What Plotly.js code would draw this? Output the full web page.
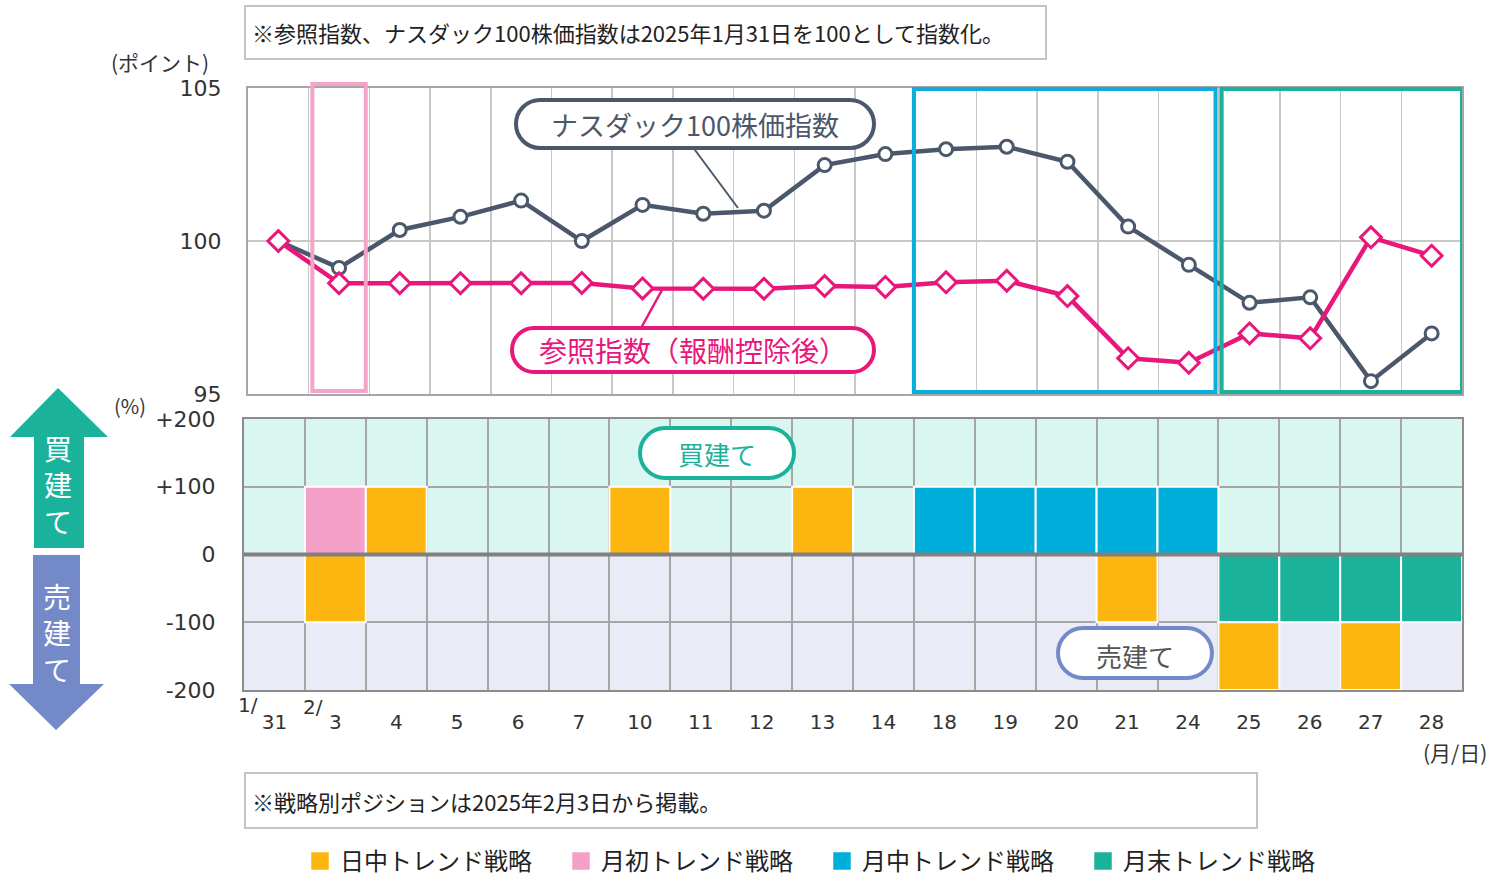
<!DOCTYPE html>
<html><head><meta charset="utf-8">
<script src="https://cdn.plot.ly/plotly-3.0.1.min.js"></script>
<style>html,body{margin:0;padding:0;background:#fff}#chart{width:1507px;height:879px}
#chart .legend .legendpoints path{transform:translate(20px,0px) scale(1.75)}</style>
</head><body><div id="chart"></div>
<script>
// ---- data ----
const dates = ['31','3','4','5','6','7','10','11','12','13','14','18','19','20','21','24','25','26','27','28'];
const nasdaq = [100,99.12,100.36,100.79,101.32,100.0,101.18,100.89,100.99,102.48,102.84,103.0,103.08,102.59,100.47,99.22,97.98,98.16,95.42,96.98];
const refIndex = [100,98.62,98.62,98.62,98.62,98.63,98.45,98.44,98.44,98.53,98.5,98.65,98.70,98.2,96.17,96.02,96.98,96.82,100.12,99.52];
const intraday   = [null,-100,100,null,null,null,100,null,null,100,null,null,null,null,-100,null,-100,null,-100,null];
const monthStart = [null,100,null,null,null,null,null,null,null,null,null,null,null,null,null,null,null,null,null,null];
const monthMid   = [null,null,null,null,null,null,null,null,null,null,null,100,100,100,100,100,null,null,null,null];
const monthEnd   = [null,null,null,null,null,null,null,null,null,null,null,null,null,null,null,null,-100,-100,-100,-100];
const yTopTicks = [95,100,105];
const yBotTicks = [-200,-100,0,100,200];
const yBotText = ['-200','-100','0','+100','+200'];

// ---- helpers ----
const W=1507,H=879;
const X=p=>p/W, Y=p=>1-p/H;
const P=(x,y)=>X(x)+','+Y(y);
function pill(x0,y0,x1,y1,r){
  const k=0.5523*r;
  return 'M'+P(x0+r,y0)+' L'+P(x1-r,y0)+' C'+P(x1-r+k,y0)+' '+P(x1,y0+r-k)+' '+P(x1,y0+r)+
    ' L'+P(x1,y1-r)+' C'+P(x1,y1-r+k)+' '+P(x1-r+k,y1)+' '+P(x1-r,y1)+
    ' L'+P(x0+r,y1)+' C'+P(x0+r-k,y1)+' '+P(x0,y1-r+k)+' '+P(x0,y1-r)+
    ' L'+P(x0,y0+r)+' C'+P(x0,y0+r-k)+' '+P(x0+r-k,y0)+' '+P(x0+r,y0)+' Z';
}
function poly(pts){return 'M'+pts.map(p=>P(p[0],p[1])).join(' L')+' Z';}

const C_NAS='#4b586c', C_REF='#e8177c', C_ORA='#fdb50f', C_PINK='#f5a0c8', C_BLUE='#00aedb', C_GRN='#1bb29c';
const JP='Noto Sans CJK JP', NUM='DejaVu Sans';
const xRange=[-0.5, dates.length-0.5];

const traces = [
  {x:dates,y:nasdaq,xaxis:'x',yaxis:'y',type:'scatter',mode:'lines+markers',showlegend:false,
   line:{color:C_NAS,width:4.5},marker:{symbol:'circle',size:13,color:'#fff',line:{color:C_NAS,width:3}},cliponaxis:false},
  {x:dates,y:refIndex,xaxis:'x',yaxis:'y',type:'scatter',mode:'lines+markers',showlegend:false,
   line:{color:C_REF,width:4.5},marker:{symbol:'diamond',size:16,color:'#fff',line:{color:C_REF,width:3}},cliponaxis:false},
  {x:dates,y:monthStart,xaxis:'x2',yaxis:'y2',type:'bar',name:'月初トレンド戦略',legendrank:2,width:1,
   marker:{color:C_PINK,line:{color:'#fff',width:2}}},
  {x:dates,y:monthMid,xaxis:'x2',yaxis:'y2',type:'bar',name:'月中トレンド戦略',legendrank:3,width:1,
   marker:{color:C_BLUE,line:{color:'#fff',width:2}}},
  {x:dates,y:monthEnd,xaxis:'x2',yaxis:'y2',type:'bar',name:'月末トレンド戦略',legendrank:4,width:1,
   marker:{color:C_GRN,line:{color:'#fff',width:2}}},
  {x:dates,y:intraday,xaxis:'x2',yaxis:'y2',type:'bar',name:'日中トレンド戦略',legendrank:1,width:1,
   marker:{color:C_ORA,line:{color:'#fff',width:2}}}
];

const i3 = dates.indexOf('3'), i18 = dates.indexOf('18'), i24 = dates.indexOf('24'), i25 = dates.indexOf('25'), i28 = dates.indexOf('28');

const shapes = [
  // bottom backgrounds
  {type:'rect',xref:'x2 domain',yref:'y2',x0:0,x1:1,y0:0,y1:200,fillcolor:'#d9f6f0',line:{width:0},layer:'below'},
  {type:'rect',xref:'x2 domain',yref:'y2',x0:0,x1:1,y0:-200,y1:0,fillcolor:'#e9ecf6',line:{width:0},layer:'below'},
  // zero line across bars
  {type:'line',xref:'x2 domain',yref:'y2',x0:0,x1:1,y0:0,y1:0,line:{color:'#808080',width:4},layer:'above'},
  // highlight boxes on top chart
  {type:'rect',xref:'x',yref:'paper',x0:i3-0.44,x1:i3+0.44,y0:Y(391),y1:Y(84),line:{color:'#f4a3c9',width:4},layer:'above'},
  {type:'rect',xref:'x',yref:'paper',x0:i18-0.53,x1:i24+0.44,y0:Y(392),y1:Y(89),line:{color:'#0aaedc',width:4},layer:'above'},
  {type:'rect',xref:'x',yref:'paper',x0:i25-0.46,x1:i28+0.5,y0:Y(392),y1:Y(89),line:{color:C_GRN,width:4},layer:'above'},
  // note boxes
  {type:'rect',xref:'paper',yref:'paper',x0:X(245),x1:X(1046),y0:Y(59),y1:Y(6),line:{color:'#c4c4c4',width:2}},
  {type:'rect',xref:'paper',yref:'paper',x0:X(245),x1:X(1257),y0:Y(828),y1:Y(773),line:{color:'#c4c4c4',width:2}},
  // pointer lines
  {type:'line',xref:'paper',yref:'paper',x0:X(692),y0:Y(146),x1:X(738),y1:Y(208),line:{color:C_NAS,width:2}},
  {type:'line',xref:'paper',yref:'paper',x0:X(640),y0:Y(330),x1:X(662),y1:Y(290),line:{color:C_REF,width:2.5}},
  // pills
  {type:'path',xref:'paper',yref:'paper',path:pill(516,100,874,148,24),fillcolor:'#fff',line:{color:C_NAS,width:4}},
  {type:'path',xref:'paper',yref:'paper',path:pill(512,328,874,372,22),fillcolor:'#fff',line:{color:C_REF,width:4}},
  {type:'path',xref:'paper',yref:'paper',path:pill(640,428,794,478,25),fillcolor:'#fff',line:{color:C_GRN,width:4}},
  {type:'path',xref:'paper',yref:'paper',path:pill(1058,628,1212,678,25),fillcolor:'#fff',line:{color:'#7489c7',width:4}},
  // side arrows
  {type:'path',xref:'paper',yref:'paper',path:poly([[58,388],[108,437],[84,437],[84,548],[34,548],[34,437],[10,437]]),fillcolor:C_GRN,line:{width:0}},
  {type:'path',xref:'paper',yref:'paper',path:poly([[33,555],[80,555],[80,684],[104,684],[56,730],[9,684],[33,684]]),fillcolor:'#7489c7',line:{width:0}}
];

const ann = (text,x,y,size,color,xanchor,extra)=>Object.assign({text:text,xref:'paper',yref:'paper',x:X(x),y:Y(y),
  xanchor:xanchor||'center',yanchor:'middle',showarrow:false,font:{family:JP,size:size,color:color||'#333'}},extra||{});

const annotations = [
  ann('※参照指数、ナスダック100株価指数は2025年1月31日を100として指数化。',250,32,22,'#222','left'),
  ann('※戦略別ポジションは2025年2月3日から掲載。',250,801,22,'#222','left'),
  ann('(ポイント)',160,62,21,'#333'),
  ann('(%)',130,405,20,'#333'),
  ann('ナスダック100株価指数',695,124,27,C_NAS),
  ann('参照指数（報酬控除後）',693,350,28,C_REF),
  ann('買建て',717,453,26,C_GRN),
  ann('売建て',1135,655,26,'#555'),
  ann('買<br>建<br>て',58,484,28,'#fff'),
  ann('売<br>建<br>て',57,632,28,'#fff'),
  Object.assign(ann('1/',248,705,20,'#333'),{font:{family:NUM,size:20,color:'#333'}}),
  Object.assign(ann('2/',313,707,20,'#333'),{font:{family:NUM,size:20,color:'#333'}}),
  ann('(月/日)',1455,752,21,'#333')
];

const layout = {
  width:W,height:H,margin:{l:0,r:0,t:0,b:0,autoexpand:false},
  paper_bgcolor:'#fff',plot_bgcolor:'rgba(0,0,0,0)',
  font:{family:NUM,color:'#333'},
  barmode:'relative',bargap:0,
  xaxis:{domain:[X(248),X(1462)],anchor:'y',type:'category',range:xRange,autorange:false,tickson:'boundaries',showticklabels:false,ticks:'',
    showgrid:true,gridcolor:'#c8c8c8',gridwidth:1.5,showline:true,mirror:true,linecolor:'#a6a6a6',linewidth:2,fixedrange:true},
  yaxis:{domain:[Y(394),Y(88)],anchor:'x',range:[95,105],tickvals:yTopTicks,ticks:'',ticklabelstandoff:20,
    tickfont:{family:NUM,size:22,color:'#333'},showgrid:true,gridcolor:'#c8c8c8',gridwidth:1.5,zeroline:false,
    showline:true,mirror:true,linecolor:'#a6a6a6',linewidth:2},
  xaxis2:{domain:[X(244),X(1462)],anchor:'y2',type:'category',range:xRange,autorange:false,tickson:'boundaries',ticks:'',ticklabelstandoff:13,
    tickfont:{family:NUM,size:20,color:'#333'},showgrid:true,gridcolor:'#a6a6a6',gridwidth:2,
    showline:true,mirror:true,linecolor:'#8c8c8c',linewidth:2},
  yaxis2:{domain:[Y(690),Y(419)],anchor:'x2',range:[-200,200],tickvals:yBotTicks,ticktext:yBotText,ticks:'',ticklabelstandoff:22,
    tickfont:{family:NUM,size:22,color:'#333'},showgrid:true,gridcolor:'#a6a6a6',gridwidth:2,
    zeroline:false,showline:true,mirror:true,linecolor:'#8c8c8c',linewidth:2},
  showlegend:true,
  legend:{orientation:'h',x:X(300),xanchor:'left',y:Y(839),yanchor:'top',font:{family:JP,size:24,color:'#222'},
    traceorder:'normal',entrywidth:216,entrywidthmode:'pixels',itemclick:false,bgcolor:'rgba(0,0,0,0)'},
  shapes:shapes,annotations:annotations
};

Plotly.newPlot('chart',traces,layout,{displayModeBar:false,staticPlot:true});
</script></body></html>
